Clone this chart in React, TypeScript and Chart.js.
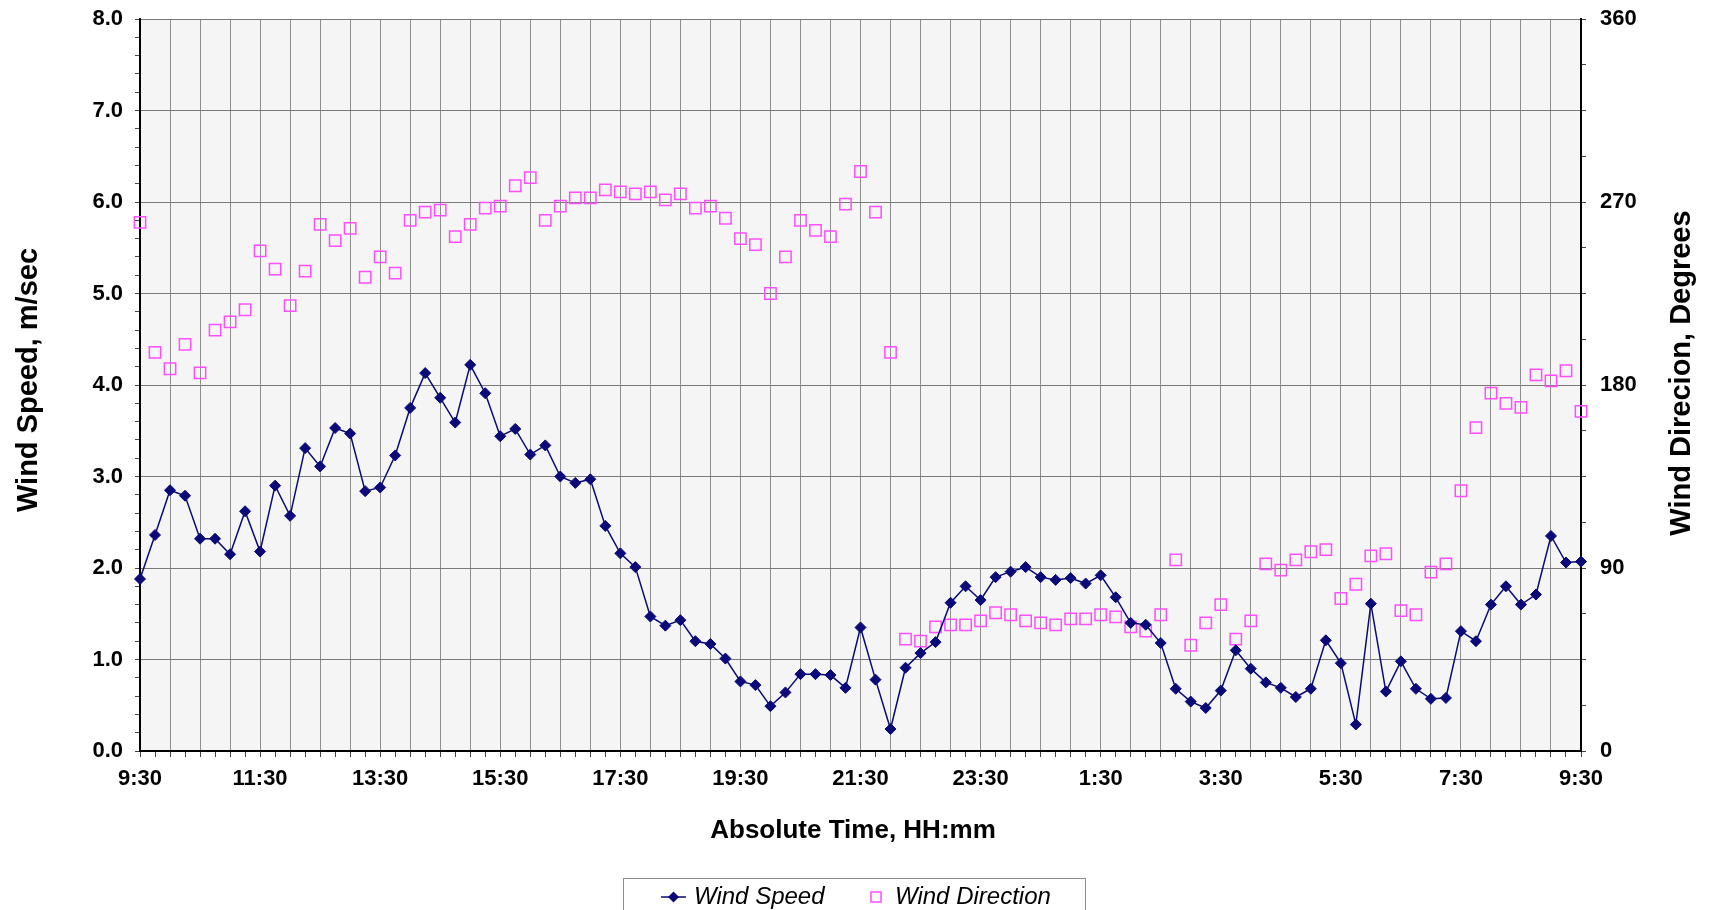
import React, { useEffect, useRef } from 'react';
import { Chart, registerables } from 'chart.js';

Chart.register(...registerables);

const timeLabels = [
  '9:30', '9:45', '10:00', '10:15', '10:30', '10:45', '11:00', '11:15',
  '11:30', '11:45', '12:00', '12:15', '12:30', '12:45', '13:00', '13:15',
  '13:30', '13:45', '14:00', '14:15', '14:30', '14:45', '15:00', '15:15',
  '15:30', '15:45', '16:00', '16:15', '16:30', '16:45', '17:00', '17:15',
  '17:30', '17:45', '18:00', '18:15', '18:30', '18:45', '19:00', '19:15',
  '19:30', '19:45', '20:00', '20:15', '20:30', '20:45', '21:00', '21:15',
  '21:30', '21:45', '22:00', '22:15', '22:30', '22:45', '23:00', '23:15',
  '23:30', '23:45', '0:00', '0:15', '0:30', '0:45', '1:00', '1:15',
  '1:30', '1:45', '2:00', '2:15', '2:30', '2:45', '3:00', '3:15',
  '3:30', '3:45', '4:00', '4:15', '4:30', '4:45', '5:00', '5:15',
  '5:30', '5:45', '6:00', '6:15', '6:30', '6:45', '7:00', '7:15',
  '7:30', '7:45', '8:00', '8:15', '8:30', '8:45', '9:00', '9:15',
  '9:30',
];

const windSpeed = [
  1.88, 2.36, 2.85, 2.79, 2.32, 2.32, 2.15, 2.62, 2.18, 2.90,
  2.57, 3.31, 3.11, 3.53, 3.47, 2.84, 2.88, 3.23, 3.75, 4.13,
  3.86, 3.59, 4.22, 3.91, 3.44, 3.52, 3.24, 3.34, 3.00, 2.93,
  2.97, 2.46, 2.16, 2.01, 1.47, 1.37, 1.43, 1.20, 1.17, 1.01,
  0.76, 0.72, 0.49, 0.64, 0.84, 0.84, 0.83, 0.69, 1.35, 0.78,
  0.24, 0.91, 1.07, 1.19, 1.62, 1.80, 1.65, 1.90, 1.96, 2.01,
  1.90, 1.87, 1.89, 1.83, 1.92, 1.68, 1.40, 1.38, 1.18, 0.68,
  0.54, 0.47, 0.66, 1.10, 0.90, 0.75, 0.69, 0.59, 0.68, 1.21,
  0.96, 0.29, 1.61, 0.65, 0.98, 0.68, 0.57, 0.58, 1.31, 1.20,
  1.60, 1.80, 1.60, 1.71, 2.35, 2.06, 2.07,
];

const windDirection = [
  260, 196, 188, 200, 186, 207, 211, 217, 246, 237,
  219, 236, 259, 251, 257, 233, 243, 235, 261, 265,
  266, 253, 259, 267, 268, 278, 282, 261, 268, 272,
  272, 276, 275, 274, 275, 271, 274, 267, 268, 262,
  252, 249, 225, 243, 261, 256, 253, 269, 285, 265,
  196, 55, 54, 61, 62, 62, 64, 68, 67, 64,
  63, 62, 65, 65, 67, 66, 61, 59, 67, 94,
  52, 63, 72, 55, 64, 92, 89, 94, 98, 99,
  75, 82, 96, 97, 69, 67, 88, 92, 128, 159,
  176, 171, 169, 185, 182, 187, 167,
];

const speedLabelValues = [0, 1, 2, 3, 4, 5, 6, 7, 8];
const directionLabelValues = [0, 90, 180, 270, 360];

const FONT = '"Liberation Sans", Arial, Helvetica, sans-serif';
const NAVY = '#0a0a78';
const PINK = '#ff4dff';

const decorPlugin = {
  id: 'decor',
  beforeDraw(chart: any) {
    const { ctx, chartArea: a } = chart;
    ctx.save();
    ctx.fillStyle = '#f5f5f5';
    ctx.fillRect(a.left, a.top, a.right - a.left, a.bottom - a.top);
    ctx.restore();
  },
  afterDraw(chart: any) {
    const { ctx } = chart;
    ctx.save();
    ctx.fillStyle = '#000';
    ctx.font = `bold 29px ${FONT}`;
    ctx.textAlign = 'center';
    ctx.textBaseline = 'middle';
    ctx.save();
    ctx.translate(29, 380);
    ctx.rotate(-Math.PI / 2);
    ctx.fillText('Wind Speed, m/sec', 0, 0);
    ctx.restore();
    ctx.save();
    ctx.translate(1682, 373);
    ctx.rotate(-Math.PI / 2);
    ctx.fillText('Wind Direcion, Degrees', 0, 0);
    ctx.restore();
    ctx.font = `bold 26px ${FONT}`;
    ctx.fillText('Absolute Time, HH:mm', 853, 831);

    // legend box
    ctx.fillStyle = '#ffffff';
    ctx.fillRect(623.5, 878.5, 462, 44);
    ctx.strokeStyle = '#8c8c8c';
    ctx.lineWidth = 1;
    ctx.strokeRect(623.5, 878.5, 462, 44);
    const ly = 897;
    ctx.strokeStyle = NAVY;
    ctx.lineWidth = 1.5;
    ctx.beginPath();
    ctx.moveTo(661, ly);
    ctx.lineTo(686, ly);
    ctx.stroke();
    ctx.fillStyle = NAVY;
    ctx.beginPath();
    ctx.moveTo(673.5 - 5.5, ly);
    ctx.lineTo(673.5, ly - 5.5);
    ctx.lineTo(673.5 + 5.5, ly);
    ctx.lineTo(673.5, ly + 5.5);
    ctx.closePath();
    ctx.fill();
    ctx.strokeStyle = PINK;
    ctx.lineWidth = 1.5;
    ctx.strokeRect(871, ly - 5, 10, 10);
    ctx.fillStyle = '#000';
    ctx.font = `italic 24px ${FONT}`;
    ctx.textAlign = 'left';
    ctx.fillText('Wind Speed', 694, ly);
    ctx.fillText('Wind Direction', 895, ly);
    ctx.restore();
  },
};

function isMajor(v: number, labels: number[]) {
  return labels.some((l) => Math.abs(l - v) < 1e-6);
}

export default function App() {
  const ref = useRef<HTMLCanvasElement | null>(null);

  useEffect(() => {
    if (!ref.current) return;
    const chart = new Chart(ref.current, {
      type: 'line',
      data: {
        labels: timeLabels,
        datasets: [
          {
            label: 'Wind Speed',
            data: windSpeed,
            yAxisID: 'y',
            borderColor: NAVY,
            backgroundColor: NAVY,
            borderWidth: 1.5,
            pointStyle: 'rectRot',
            pointRadius: 5.5,
            pointBackgroundColor: NAVY,
            pointBorderColor: NAVY,
            pointBorderWidth: 1,
            tension: 0,
          },
          {
            label: 'Wind Direction',
            data: windDirection,
            yAxisID: 'y1',
            showLine: false,
            borderColor: PINK,
            backgroundColor: 'transparent',
            pointStyle: 'rect',
            pointRadius: 8,
            pointBackgroundColor: 'transparent',
            pointBorderColor: PINK,
            pointBorderWidth: 1.5,
          },
        ],
      },
      options: {
        responsive: false,
        animation: false,
        layout: { padding: { top: 19, left: 0, right: 0, bottom: 0 } },
        plugins: {
          legend: { display: false },
          tooltip: { enabled: false },
        },
        scales: {
          x: {
            type: 'category',
            offset: false,
            afterFit: (s: any) => {
              s.height = 159;
              s.paddingLeft = 0;
              s.paddingRight = 0;
            },
            grid: {
              color: (c: any) => (c.index % 2 === 0 ? '#8e8e8e' : 'transparent'),
              tickColor: '#444',
              tickLength: 6,
              lineWidth: 1,
            },
            border: { color: '#000', width: 2 },
            ticks: {
              autoSkip: false,
              maxRotation: 0,
              minRotation: 0,
              padding: 9,
              color: '#000',
              font: { family: FONT, size: 22, weight: 'bold' },
              callback: (_v: any, i: number) => (i % 8 === 0 ? timeLabels[i] : ''),
            },
          },
          y: {
            type: 'linear',
            position: 'left',
            min: 0,
            max: 8,
            afterFit: (s: any) => {
              s.width = 140;
              s.paddingTop = 0;
              s.paddingBottom = 0;
            },
            grid: {
              color: (c: any) => (isMajor(c.tick.value, speedLabelValues) ? '#7a7a7a' : 'transparent'),
              tickColor: '#444',
              tickLength: 5,
            },
            border: { color: '#000', width: 2 },
            ticks: {
              stepSize: 0.2,
              autoSkip: false,
              padding: 12,
              color: '#000',
              font: { family: FONT, size: 22, weight: 'bold' },
              callback: (v: any) => (isMajor(Number(v), speedLabelValues) ? Number(v).toFixed(1) : ''),
            },
          },
          y1: {
            type: 'linear',
            position: 'right',
            min: 0,
            max: 360,
            afterFit: (s: any) => {
              s.width = 130;
              s.paddingTop = 0;
              s.paddingBottom = 0;
            },
            grid: {
              drawOnChartArea: false,
              tickColor: '#444',
              tickLength: 5,
            },
            border: { color: '#000', width: 2 },
            ticks: {
              stepSize: 22.5,
              autoSkip: false,
              padding: 14,
              color: '#000',
              font: { family: FONT, size: 22, weight: 'bold' },
              callback: (v: any) => (isMajor(Number(v), directionLabelValues) ? String(Number(v)) : ''),
            },
          },
        },
      },
      plugins: [decorPlugin],
    } as any);
    return () => chart.destroy();
  }, []);

  return (
    <div style={{ position: 'absolute', left: 0, top: 0, width: 1711, height: 910, background: '#fff' }}>
      <canvas ref={ref} width={1711} height={910} style={{ display: 'block' }} />
    </div>
  );
}
